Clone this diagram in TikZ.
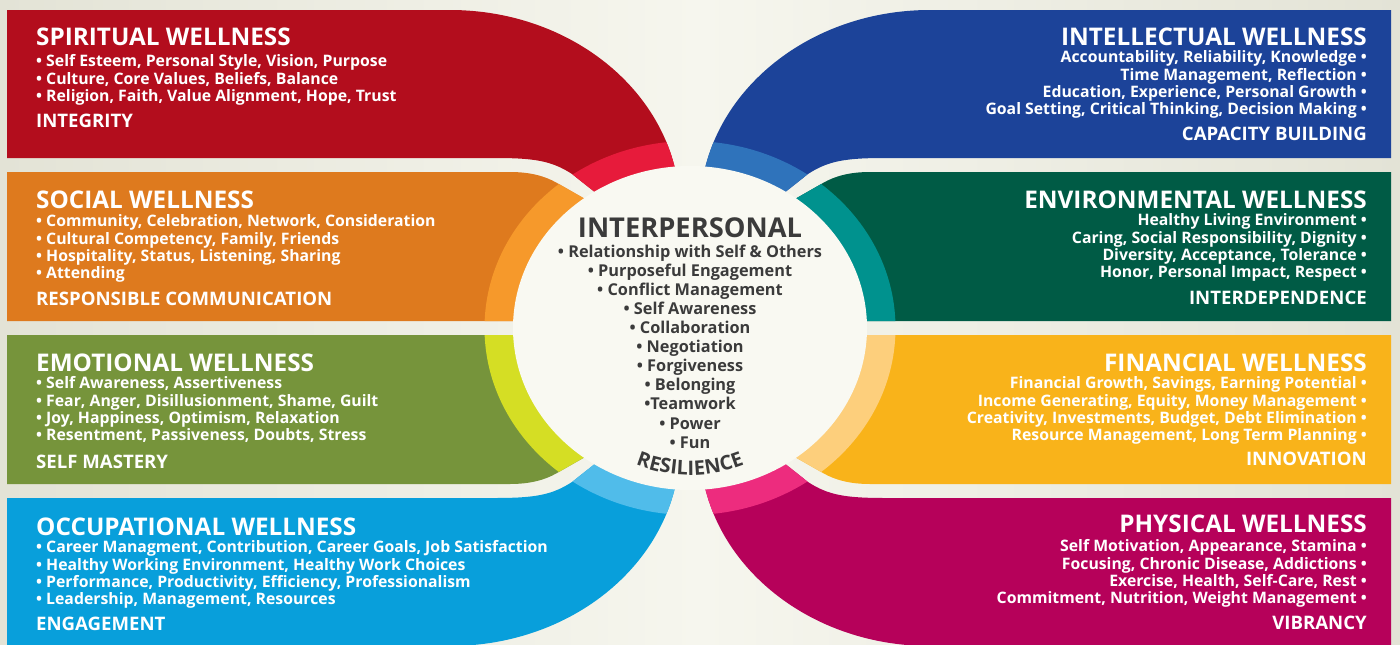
\documentclass[tikz,border=0pt]{standalone}
\usepackage{fontspec}
\setmainfont{Open Sans}
\usetikzlibrary{decorations.text}

\definecolor{bgcream}{HTML}{F6F6EE}
\definecolor{bgedge}{HTML}{E3E3D6}
\definecolor{hubcream}{HTML}{F9F9F2}
\definecolor{hubtext}{HTML}{3B3B3B}
\definecolor{spiritdark}{HTML}{B30D1D}
\definecolor{spiritlight}{HTML}{E71B3B}
\definecolor{socialdark}{HTML}{DE7A1E}
\definecolor{sociallight}{HTML}{F6992B}
\definecolor{emodark}{HTML}{76943B}
\definecolor{emolight}{HTML}{D5DE24}
\definecolor{occdark}{HTML}{089FDB}
\definecolor{occlight}{HTML}{50BCEA}
\definecolor{inteldark}{HTML}{1C4399}
\definecolor{intellight}{HTML}{2F73BB}
\definecolor{envdark}{HTML}{005B45}
\definecolor{envlight}{HTML}{00928E}
\definecolor{findark}{HTML}{F9B31A}
\definecolor{finlight}{HTML}{FDCF7C}
\definecolor{physdark}{HTML}{B6015A}
\definecolor{physlight}{HTML}{ED2C7E}

% outline of the outer and the middle band of one quarter
\newcommand{\outerband}[1]{(#1,10) -- (450,10) arc[start angle=90, end angle=0, x radius=230pt, y radius=200pt] -- (620,212) -- (572,174) .. controls (552,161) and (535,158) .. (495,158) -- (#1,158) -- cycle}
\newcommand{\middleband}[1]{(#1,172) -- (510,172) .. controls (530,172) and (545,176) .. (557,183) -- (620,219) -- (690,321) -- (#1,321) -- cycle}

\tikzset{
  panel/.style 2 args={fill=#1, path picture={\fill[#2] (hub) ellipse [x radius=205.5pt, y radius=187pt];}},
  paneltitle/.style={text=white, inner sep=0pt, font=\bfseries\fontsize{24.3}{26}\selectfont},
  panelitems/.style={text=white, inner sep=0pt, font=\bfseries\fontsize{15.8}{17.3}\selectfont},
  panelkey/.style={text=white, inner sep=0pt, font=\bfseries\fontsize{18.6}{20}\selectfont},
  hubtitle/.style={text=hubtext, inner sep=0pt, font=\bfseries\fontsize{27.3}{30}\selectfont},
  hubitems/.style={text=hubtext, inner sep=0pt, font=\bfseries\fontsize{16.3}{19.1}\selectfont},
}

\begin{document}
\begin{tikzpicture}[x=1pt, y=-1pt]
    \useasboundingbox (0,0) rectangle (1400,645);
    \shade[left color=bgedge, right color=bgedge, middle color=bgcream] (0,0) rectangle (1400,645);
    \coordinate (hub) at (690,328);

    % left column
    \fill[panel={spiritdark}{spiritlight}] \outerband{7};
    \fill[panel={socialdark}{sociallight}] \middleband{7};
    \begin{scope}[shift={(0,656)}, yscale=-1]
        \fill[panel={occdark}{occlight}] \outerband{7};
        \fill[panel={emodark}{emolight}] \middleband{7};
    \end{scope}

    % right column
    \begin{scope}[shift={(1380,0)}, xscale=-1]
        \fill[panel={inteldark}{intellight}] \outerband{-11};
        \fill[panel={envdark}{envlight}] \middleband{-11};
    \end{scope}
    \begin{scope}[shift={(1380,656)}, xscale=-1, yscale=-1]
        \fill[panel={physdark}{physlight}] \outerband{-11};
        \fill[panel={findark}{finlight}] \middleband{-11};
    \end{scope}

    \fill[hubcream] (hub) ellipse [x radius=177pt, y radius=162pt];

    % left texts
    \node[paneltitle, anchor=base west] (sp-title) at (36,45) {SPIRITUAL WELLNESS};
    \node[panelitems, anchor=north west, align=left] (sp-items) at (36,54.4)
        {\strut• Self Esteem, Personal Style, Vision, Purpose\\
         • Culture, Core Values, Beliefs, Balance\\
         • Religion, Faith, Value Alignment, Hope, Trust};
    \node[panelkey, anchor=base west] (sp-key) at (36,127) {INTEGRITY};

    \node[paneltitle, anchor=base west] (so-title) at (36,208) {SOCIAL WELLNESS};
    \node[panelitems, anchor=north west, align=left] (so-items) at (36,214.4)
        {\strut• Community, Celebration, Network, Consideration\\
         • Cultural Competency, Family, Friends\\
         • Hospitality, Status, Listening, Sharing\\
         • Attending};
    \node[panelkey, anchor=base west] (so-key) at (36,305) {RESPONSIBLE COMMUNICATION};

    \node[paneltitle, anchor=base west] (em-title) at (36,371) {EMOTIONAL WELLNESS};
    \node[panelitems, anchor=north west, align=left] (em-items) at (36,376.4)
        {\strut• Self Awareness, Assertiveness\\
         • Fear, Anger, Disillusionment, Shame, Guilt\\
         • Joy, Happiness, Optimism, Relaxation\\
         • Resentment, Passiveness, Doubts, Stress};
    \node[panelkey, anchor=base west] (em-key) at (36,468) {SELF MASTERY};

    \node[paneltitle, anchor=base west] (oc-title) at (36,535) {OCCUPATIONAL WELLNESS};
    \node[panelitems, anchor=north west, align=left] (oc-items) at (36,540.4)
        {\strut• Career Managment, Contribution, Career Goals, Job Satisfaction\\
         • Healthy Working Environment, Healthy Work Choices\\
         • Performance, Productivity, Efficiency, Professionalism\\
         • Leadership, Management, Resources};
    \node[panelkey, anchor=base west] (oc-key) at (36,630) {ENGAGEMENT};

    % right texts
    \node[paneltitle, anchor=base east] (in-title) at (1367,45) {INTELLECTUAL WELLNESS};
    \node[panelitems, anchor=north east, align=right] (in-items) at (1367,50.4)
        {\strut Accountability, Reliability, Knowledge •\\
         Time Management, Reflection •\\
         Education, Experience, Personal Growth •\\
         Goal Setting, Critical Thinking, Decision Making •};
    \node[panelkey, anchor=base east] (in-key) at (1367,140) {CAPACITY BUILDING};

    \node[paneltitle, anchor=base east] (en-title) at (1367,208) {ENVIRONMENTAL WELLNESS};
    \node[panelitems, anchor=north east, align=right] (en-items) at (1367,213.4)
        {\strut Healthy Living Environment •\\
         Caring, Social Responsibility, Dignity •\\
         Diversity, Acceptance, Tolerance •\\
         Honor, Personal Impact, Respect •};
    \node[panelkey, anchor=base east] (en-key) at (1367,304) {INTERDEPENDENCE};

    \node[paneltitle, anchor=base east] (fi-title) at (1367,371) {FINANCIAL WELLNESS};
    \node[panelitems, anchor=north east, align=right] (fi-items) at (1367,376.4)
        {\strut Financial Growth, Savings, Earning Potential •\\
         Income Generating, Equity, Money Management •\\
         Creativity, Investments, Budget, Debt Elimination •\\
         Resource Management, Long Term Planning •};
    \node[panelkey, anchor=base east] (fi-key) at (1367,465) {INNOVATION};

    \node[paneltitle, anchor=base east] (ph-title) at (1367,532) {PHYSICAL WELLNESS};
    \node[panelitems, anchor=north east, align=right] (ph-items) at (1367,539.4)
        {\strut Self Motivation, Appearance, Stamina •\\
         Focusing, Chronic Disease, Addictions •\\
         Exercise, Health, Self-Care, Rest •\\
         Commitment, Nutrition, Weight Management •};
    \node[panelkey, anchor=base east] (ph-key) at (1367,629) {VIBRANCY};

    % hub
    \node[hubtitle, anchor=base] (hub-title) at (690,237) {INTERPERSONAL};
    \node[hubitems, anchor=north, align=center] (hub-items) at (690,243.6)
        {\strut• Relationship with Self \& Others\\
         • Purposeful Engagement\\
         • Conflict Management\\
         • Self Awareness\\
         • Collaboration\\
         • Negotiation\\
         • Forgiveness\\
         • Belonging\\
         •Teamwork\\
         • Power\\
         • Fun};
    \path[decorate, decoration={text along path, text align=center, text color=hubtext,
        text={|\bfseries\fontsize{20}{22}\selectfont|RESILIENCE}}]
        ([shift={(238:147pt)}]hub) arc[start angle=238, end angle=302, radius=147pt];
\end{tikzpicture}
\end{document}
